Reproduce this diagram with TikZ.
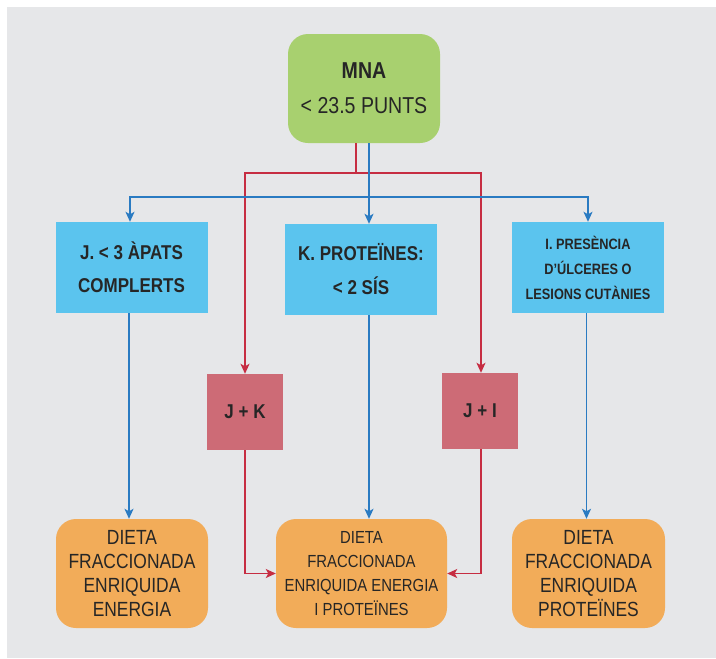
\documentclass[tikz,border=0pt]{standalone}
\usepackage{fontspec}
\setmainfont[FakeStretch=0.85]{Liberation Sans}
\usetikzlibrary{arrows.meta}
\definecolor{bggray}{HTML}{E6E7E9}
\definecolor{mnagreen}{HTML}{A8D06F}
\definecolor{boxblue}{HTML}{5BC4EE}
\definecolor{boxred}{HTML}{CD6B76}
\definecolor{boxorange}{HTML}{F2AC59}
\definecolor{linered}{HTML}{C62D42}
\definecolor{lineblue}{HTML}{2A7BC2}
\tikzset{
  base/.style={inner sep=0pt, align=center, text=black!85},
  greenbox/.style={base, fill=mnagreen, rounded corners=20pt, minimum width=152pt, minimum height=109pt},
  bluebox/.style={base, fill=boxblue, minimum width=152pt, minimum height=91pt},
  redbox/.style={base, fill=boxred, minimum width=76pt, minimum height=76pt, font=\fontsize{20}{24}\selectfont\bfseries},
  orangebox/.style={base, fill=boxorange, rounded corners=20pt, minimum height=109pt},
  redline/.style={draw=linered, line width=1.3pt},
  blueline/.style={draw=lineblue, line width=1.3pt},
  tip/.style={-{Stealth[length=10pt,width=9pt,inset=2.5pt]}}
}
\begin{document}
\begin{tikzpicture}[x=1pt,y=-1pt]
\useasboundingbox (0,0) rectangle (716,659);
\fill[bggray] (7,7) rectangle (716,658);

\node[greenbox, font=\fontsize{23}{35}\selectfont] (mna) at (364,88.5) {\textbf{MNA}\\< 23.5 PUNTS};

\node[bluebox, font=\fontsize{20}{33}\selectfont\bfseries] (j) at (131.5,267.5) {J. < 3 ÀPATS\\COMPLERTS};
\node[bluebox, font=\fontsize{20}{34}\selectfont\bfseries] (k) at (361,269.5) {K. PROTEÏNES:\\< 2 SÍS};
\node[bluebox, font=\fontsize{15}{25}\selectfont\bfseries] (i) at (588,267.5) {I. PRESÈNCIA\\D’ÚLCERES O\\LESIONS CUTÀNIES};

\node[redbox] (jk) at (245,412) {J + K};
\node[redbox] (ji) at (480,411) {J + I};

\node[orangebox, minimum width=152pt, font=\fontsize{20.5}{23.7}\selectfont] (bl) at (132,573.5) {DIETA\\FRACCIONADA\\ENRIQUIDA\\ENERGIA};
\node[orangebox, minimum width=171pt, font=\fontsize{17.5}{24}\selectfont] (bm) at (361.5,573.5) {DIETA\\FRACCIONADA\\ENRIQUIDA ENERGIA\\I PROTEÏNES};
\node[orangebox, minimum width=153pt, font=\fontsize{20.5}{23.7}\selectfont] (br) at (588.5,573.5) {DIETA\\FRACCIONADA\\ENRIQUIDA\\PROTEÏNES};

% coordinates for splits
\coordinate (rsplit) at (356,173);
\coordinate (bsplit) at (369,197);
\coordinate (rjk) at (245,573);
\coordinate (rji) at (481,573);

% red connectors
\draw[redline] (mna.south -| rsplit) -- (rsplit);
\draw[redline, tip] (rsplit) -| (jk.north);
\draw[redline, tip] (rsplit) -| (ji.north -| rji);
\draw[redline, tip] (jk.south) |- (bm.west);
\draw[redline, tip] (ji.south -| rji) |- (bm.east);

% blue connectors
\draw[blueline, tip] (mna.south -| bsplit) -- (k.north -| bsplit);
\draw[blueline, tip] (bsplit) -| ([xshift=-1.5pt]j.north);
\draw[blueline, tip] (bsplit) -| (i.north);
\draw[blueline, tip] ([xshift=-2.5pt]j.south) -- ([xshift=-2.5pt]j.south |- bl.north);
\draw[blueline, tip] (k.south -| bsplit) -- (bm.north -| bsplit);
\draw[blueline, tip] ([xshift=-1.5pt]i.south) -- ([xshift=-1.5pt]i.south |- br.north);
\end{tikzpicture}
\end{document}
